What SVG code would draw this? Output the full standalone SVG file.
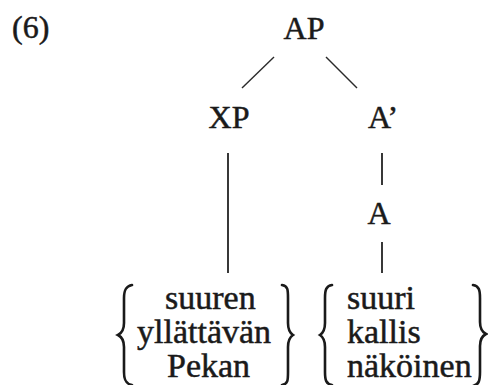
<svg xmlns="http://www.w3.org/2000/svg" width="488" height="385" viewBox="0 0 488 385">
<style>
text { font-family: "Liberation Serif", "Times New Roman", serif; fill: #1a1a1a; stroke: #1a1a1a; stroke-width: 0.5; }
.lbl { font-size: 32px; }
.w { font-size: 34px; }
.edge { stroke: #2a2a2a; stroke-width: 1.4; fill: none; }
.vert { stroke: #222; stroke-width: 1.8; fill: none; }
.brace { stroke: #1a1a1a; stroke-width: 2.6; fill: none; stroke-linecap: round; }
</style>
<rect width="488" height="385" fill="#ffffff"/>
<g id="example-number"><text class="lbl" x="12" y="38">(6)</text></g>
<g id="node-AP"><text class="lbl" x="304" y="39" text-anchor="middle">AP</text></g>
<g id="node-XP"><text class="lbl" x="229" y="128" text-anchor="middle">XP</text></g>
<g id="node-Abar"><text class="lbl" x="368" y="128">A’</text></g>
<g id="node-A"><text class="lbl" x="379" y="224" text-anchor="middle">A</text></g>
<g id="node-XP-words">
<path class="brace" d="M132,285 C126,286 124,290 124,298 L124,323 C124,330 122,333 118,335 C122,337 124,340 124,347 L124,372 C124,380 126,384 132,385"/>
<text class="w" x="165" y="309">suuren</text>
<text class="w" x="137" y="343">yllättävän</text>
<text class="w" x="167" y="377">Pekan</text>
<path class="brace" d="M282,285 C288,286 288,290 288,298 L288,323 C288,330 290,333 293,335 C290,337 288,340 288,347 L288,372 C288,380 288,384 282,385"/>
</g>
<g id="node-A-words">
<path class="brace" d="M332,285 C326,286 325,290 325,298 L325,323 C325,330 323,333 320,335 C323,337 325,340 325,347 L325,372 C325,380 326,384 332,385"/>
<text class="w" x="347" y="309">suuri</text>
<text class="w" x="347" y="343">kallis</text>
<text class="w" x="347" y="377">näköinen</text>
<path class="brace" d="M473,285 C479,286 480,290 480,298 L480,322 C480,329 482,332 486,334 C482,336 480,339 480,346 L480,372 C480,380 479,385 473,386"/>
</g>
<g id="connectors">
<line class="edge" x1="274" y1="57" x2="242" y2="88"/>
<line class="edge" x1="326" y1="57" x2="357" y2="88"/>
<line class="vert" x1="228" y1="153" x2="228" y2="273"/>
<line class="vert" x1="382" y1="153" x2="382" y2="185"/>
<line class="vert" x1="382" y1="242" x2="382" y2="273"/>
</g>
</svg>
